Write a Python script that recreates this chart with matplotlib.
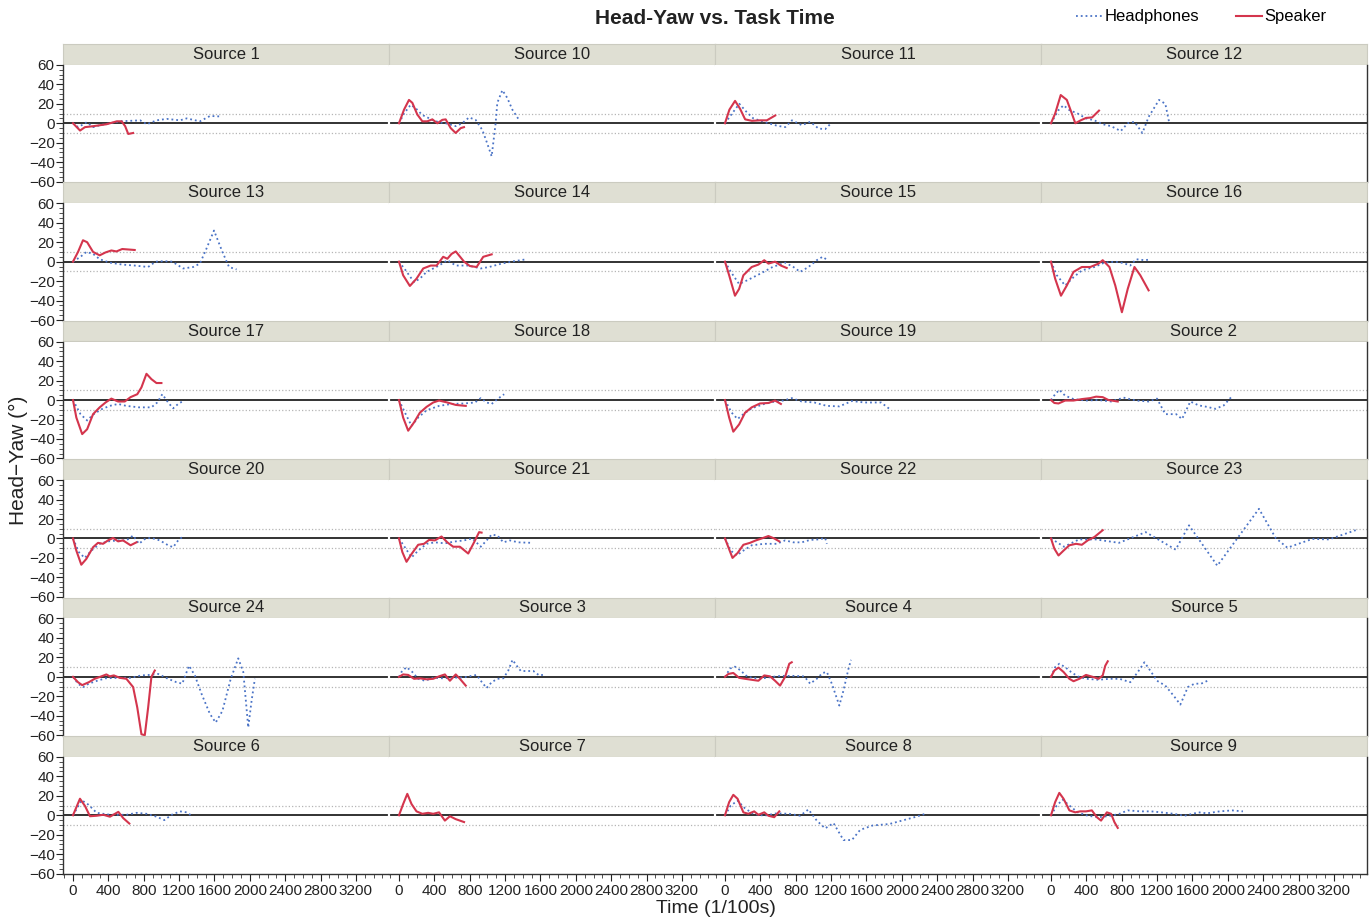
import matplotlib
matplotlib.use("Agg")
import matplotlib.pyplot as plt
from matplotlib.lines import Line2D
from matplotlib.ticker import MultipleLocator

plt.rcParams['font.family'] = ['Liberation Sans', 'DejaVu Sans']

# panel order as it appears in the facet grid (sorted as strings)
panel_order = [1, 10, 11, 12, 13, 14, 15, 16, 17, 18, 19, 2,
               20, 21, 22, 23, 24, 3, 4, 5, 6, 7, 8, 9]

# ---- data: time (1/100 s) and head-yaw (deg) ----
hp1_t = [0, 60, 155, 230, 305, 420, 530, 760, 835, 945, 1060, 1210, 1285, 1435, 1550, 1665]
hp1_y = [0, -4, 1, -4, -2, 0, 2, 3, -1, 3, 4.5, 3, 5, 2, 7.5, 7]
sp1_t = [0, 80, 135, 230, 380, 495, 550, 590, 625, 680]
sp1_y = [0, -7.5, -4, -3, -1, 2, 2, -3, -11, -10]

hp10_t = [0, 57, 132, 188, 264, 377, 452, 528, 641, 716, 792, 867, 943, 999, 1048, 1093, 1112, 1169, 1225, 1282, 1357]
hp10_y = [0, 10, 19, 15.5, 8.5, 3.5, 1, 0, -3, 0, 6, 3.5, -7, -21, -34, 0, 21, 34, 26, 14, 3.5]
sp10_t = [0, 57, 113, 151, 207, 264, 320, 377, 434, 490, 528, 585, 641, 698, 735]
sp10_y = [0, 14, 24, 21, 9, 2, 2, 4, 0, 3.5, 4, -5, -10, -5, -4]

hp11_t = [0, 80, 162, 240, 320, 492, 587, 681, 757, 870, 965, 1059, 1134, 1200]
hp11_y = [0, 10, 20, 12, 5, 0, -2.5, -4, 3, -2, 1.5, -5.5, -6, 0]
sp11_t = [0, 50, 114, 170, 228, 304, 398, 473, 568]
sp11_y = [0, 14, 23, 15, 4, 2.5, 3, 3, 8]

hp12_t = [0, 85, 142, 208, 302, 396, 491, 585, 680, 789, 868, 944, 1034, 1104, 1222, 1293, 1335]
hp12_y = [0, 13.5, 18.5, 13.5, 10, 5, 3, -1, -3, -8, 0, 1.5, -10, 6.5, 24, 20, 1.5]
sp12_t = [0, 47, 110, 179, 236, 275, 336, 397, 465, 543]
sp12_y = [0, 10, 29, 24, 10, 0, 3, 5.5, 6, 13]

hp13_t = [0, 85, 151, 227, 302, 415, 557, 698, 849, 934, 1029, 1123, 1246, 1359, 1435, 1510, 1595, 1690, 1765, 1850]
hp13_y = [0, 5, 10, 8, 2.5, -1, -3, -4, -5.5, 0, 0.5, 0, -7, -5.5, -2, 13.5, 32, 10, -5.5, -8]
sp13_t = [0, 57, 113, 160, 227, 302, 368, 434, 491, 557, 698]
sp13_y = [0, 10, 22, 20, 10, 6.5, 9.5, 11.5, 10.5, 13, 12]

hp14_t = [0, 76, 170, 236, 312, 453, 547, 642, 783, 925, 1019, 1161, 1303, 1444]
hp14_y = [0, -9, -21, -17.5, -10.5, -4, 1.5, -4, -4, -7, -5.5, -2, 0.5, 2.5]
sp14_t = [0, 47, 123, 198, 274, 359, 425, 500, 547, 595, 642, 736, 802, 878, 953, 1048]
sp14_y = [0, -14, -25, -17.5, -7, -4, -4, 5, 3, 8, 10.5, 0, -4.5, -5.5, 5, 7.5]

hp15_t = [0, 66, 160, 255, 396, 538, 680, 774, 850, 944, 1038, 1104, 1152]
hp15_y = [0, -10.5, -23, -19, -12.5, -5.5, -1, -5.5, -10.5, -5.5, 1.5, 5, 2]
sp15_t = [0, 47, 113, 160, 208, 302, 378, 444, 491, 566, 632, 698]
sp15_y = [0, -14, -35, -28, -14, -5.5, -3, 1.5, -2, 0, -4, -6.5]

hp16_t = [0, 66, 160, 255, 349, 491, 604, 727, 821, 896, 963, 1057, 1104]
hp16_y = [0, -14, -24.5, -16, -9, -5.5, -1, 0, -1.5, -4, 2.5, 1.5, 2]
sp16_t = [0, 47, 113, 179, 255, 349, 444, 538, 585, 661, 727, 802, 868, 944, 1010, 1104]
sp16_y = [0, -17.5, -35, -24.5, -10.5, -5.5, -5.5, -2, 1.5, -5.5, -24.5, -52, -28, -5.5, -14, -29.5]

hp17_t = [0, 85, 160, 227, 321, 415, 510, 604, 746, 887, 953, 1010, 1076, 1133, 1189, 1236]
hp17_y = [0, -14.5, -21, -15, -9.5, -6, -4, -6, -7.5, -7.5, -2.5, 6, -2.5, -8.5, -4, -1.5]
sp17_t = [0, 38, 104, 160, 227, 302, 368, 434, 510, 585, 651, 727, 774, 831, 887, 944, 1000]
sp17_y = [0, -18, -35, -30, -14.5, -7.5, -2.5, 1.5, -1.5, -1.5, 3, 6, 13, 27, 21.5, 17.5, 17.5]

hp18_t = [0, 76, 142, 217, 312, 453, 595, 736, 859, 925, 991, 1048, 1114, 1189]
hp18_y = [0, -14.5, -26.5, -18, -10.5, -6, -4, -3.5, -2.5, 2, -2.5, -4, 1, 6]
sp18_t = [0, 47, 104, 170, 236, 312, 387, 453, 547, 642, 755]
sp18_y = [0, -18, -31.5, -23, -13, -7, -2.5, -0.5, -2.5, -5, -6]

hp19_t = [0, 76, 142, 208, 302, 444, 566, 661, 755, 868, 1010, 1152, 1293, 1435, 1576, 1765, 1859]
hp19_y = [0, -13, -19.5, -14.5, -8.5, -4, -1.5, -0.5, 2, -1.5, -2.5, -6, -6.5, -1, -2.5, -2.5, -9]
sp19_t = [0, 47, 94, 160, 227, 302, 396, 491, 566, 632]
sp19_y = [0, -18, -32.5, -25, -13, -7.5, -3.5, -3, -0.5, -4]

hp2_t = [0, 47, 94, 160, 255, 396, 538, 680, 821, 963, 1104, 1199, 1293, 1416, 1482, 1576, 1671, 1765, 1860, 1954, 2048]
hp2_y = [0, 6, 10.5, 4.5, 1, -0.5, 0, -1.5, 2.5, -0.5, -1.5, 1.5, -14.5, -14.5, -19.5, -1.5, -5.5, -7, -9, -5.5, 4]
sp2_t = [0, 38, 85, 160, 255, 349, 444, 510, 585, 651, 755]
sp2_y = [0, -3, -3.5, -0.5, -0.5, 1, 2, 3.5, 3, 0, -1.5]

hp20_t = [0, 66, 132, 208, 302, 396, 510, 604, 680, 746, 821, 887, 982, 1076, 1133, 1189, 1236]
hp20_y = [0, -14, -20, -12.5, -5.5, -3, -2, -2, 3, -5.5, 0, 0.5, -2, -7, -9, -2, 1.5]
sp20_t = [0, 38, 94, 151, 227, 283, 340, 396, 453, 510, 566, 651, 717]
sp20_y = [0, -12.5, -27, -21, -9, -4.5, -5.5, -2, 0.5, -3, -2, -7, -4]

hp21_t = [0, 66, 142, 217, 312, 406, 519, 642, 736, 830, 925, 991, 1048, 1114, 1180, 1255, 1350, 1501]
hp21_y = [0, -9, -19.5, -12.5, -5.5, -4, -5, -3, -2, 0, -8.5, -2, 4, 3, -4, -2, -4, -4.5]
sp21_t = [0, 38, 85, 142, 217, 283, 340, 406, 481, 547, 613, 689, 783, 849, 906, 934]
sp21_y = [0, -14, -24, -16, -6.5, -5.5, -1.5, -2, 2, -4, -8.5, -8.5, -15.5, -4, 6.5, 6]

hp22_t = [0, 66, 132, 208, 302, 444, 585, 680, 774, 868, 963, 1057, 1133, 1152]
hp22_y = [0, -12.5, -17.5, -12.5, -7, -5.5, -5.5, -2, -4, -4, -1.5, -1, 0.5, -5.5]
sp22_t = [0, 38, 85, 142, 208, 283, 349, 415, 491, 557, 614]
sp22_y = [0, -9, -20, -15, -6.5, -4.5, -2, 0, 2.5, 0, -3]

hp23_t = [0, 147, 317, 505, 769, 1071, 1410, 1561, 1881, 2352, 2541, 2673, 2956, 3144, 3446]
hp23_y = [0, -8.5, -1, -1, -4.5, 6.5, -11.5, 13.5, -28, 30.5, 0.5, -9.5, -0.5, -1, 8.5]
sp23_t = [0, 38, 85, 142, 208, 283, 349, 415, 491, 538, 585]
sp23_y = [0, -10.5, -17.5, -12.5, -7, -5.5, -6.5, -2, 1.5, 5, 8.5]

hp24_t = [0, 57, 113, 179, 274, 368, 510, 651, 774, 868, 963, 1076, 1170, 1236, 1312, 1378, 1454,
          1548, 1614, 1690, 1784, 1869, 1926, 1982, 2020, 2057]
hp24_y = [0, -7, -10.5, -7, -4, -1.5, -1, -1, 1.5, 2, 3, -2, -5.5, -7, 11.5, 1.5, -17.5,
          -38, -47, -35, -2, 19, 5, -52, -24.5, -2]
sp24_t = [0, 57, 104, 179, 245, 321, 378, 415, 462, 529, 604, 680, 727, 774, 812, 850, 887, 925]
sp24_y = [0, -5.5, -8.5, -5.5, -2, 0.5, 2.5, 0.5, 1.5, -1, -2, -10.5, -31.5, -59, -60, -31.5, 0, 6.5]

hp3_t = [0, 28, 85, 151, 217, 293, 387, 500, 595, 736, 878, 925, 991, 1048, 1114, 1180, 1236,
         1284, 1331, 1378, 1520, 1586, 1661]
hp3_y = [0, 5, 10, 5, -2, -4, -1, -1.5, -1, -0.5, 2, -4, -11.5, -5.5, -2, -1.5, 6.5,
         17.5, 11.5, 6, 6, 1.5, 2.5]
sp3_t = [0, 47, 104, 170, 236, 312, 387, 453, 519, 576, 642, 689, 755]
sp3_y = [0, 2.5, 2, -2, -1.5, -2.5, -2, 0.5, 2.5, -4, 2.5, -2, -9]

hp4_t = [0, 57, 113, 170, 255, 396, 538, 632, 774, 897, 963, 1038, 1104, 1152, 1208, 1293, 1340, 1397, 1425]
hp4_y = [0, 8.5, 10.5, 7, 0, -2, 0, 1, 1, 0.5, -7, -2, 4, 5, -7, -29.5, -14, 8.5, 17.5]
sp4_t = [0, 38, 94, 160, 227, 302, 378, 444, 510, 566, 623, 680, 727, 755]
sp4_y = [0, 3, 4, -1, -2, -3, -4, 1.5, 0.5, -4, -9, 0, 13.5, 15]

hp5_t = [0, 47, 94, 160, 227, 302, 396, 538, 661, 774, 897, 982, 1057, 1133, 1199, 1293, 1388,
         1463, 1548, 1624, 1699, 1794]
hp5_y = [0, 10, 13.5, 10, 5, 0.5, -2, -3, -2, -2, -5.5, 5, 15, 5, -4, -9, -19.5,
         -28.5, -10.5, -7, -7, -3]
sp5_t = [0, 38, 85, 142, 208, 255, 321, 396, 472, 538, 585, 614, 642]
sp5_y = [0, 6.5, 9.5, 5, -2, -4.5, -2, 2, 0, -2, 1.5, 11.5, 16]

hp6_t = [0, 98, 173, 268, 418, 607, 720, 833, 946, 1033, 1116, 1210, 1286, 1342]
hp6_y = [0, 15.5, 11, 2.5, 0.5, 0.5, 2.5, 1.5, -1.5, -5, 0.5, 4, 3, -0.5]
sp6_t = [0, 79, 136, 192, 268, 343, 418, 513, 569, 637]
sp6_y = [0, 17, 9.5, -1, -0.5, 0.5, -1.5, 3.5, -3, -8.5]

hp7_t = []
hp7_y = []
sp7_t = [0, 47, 94, 142, 198, 264, 330, 387, 453, 519, 576, 642, 736]
sp7_y = [0, 11.5, 22, 11.5, 4, 1.5, 2.5, 1.5, 3, -5.5, -1, -4, -7]

hp8_t = [0, 66, 142, 227, 321, 444, 585, 727, 850, 944, 1038, 1133, 1227, 1340, 1435, 1529, 1671,
         1860, 2001, 2143, 2266]
hp8_y = [0, 10, 15, 7, 1.5, -0.5, 2, 1.5, -0.5, 6, -5.5, -13.5, -8, -25.5, -25.5, -15, -10.5,
         -9, -5.5, -2, 1.5]
sp8_t = [0, 47, 94, 142, 208, 264, 330, 378, 444, 491, 557, 614]
sp8_y = [0, 13.5, 21, 17, 3, 1.5, 4, 0.5, 3, -0.5, -2, 4]

hp9_t = [0, 66, 132, 208, 302, 415, 538, 680, 774, 868, 1010, 1133, 1246, 1388, 1510, 1671, 1765,
         1907, 2048, 2171]
hp9_y = [0, 10, 16, 10, 3, -0.5, -2, -0.5, 1.5, 5, 4, 4, 3, 1.5, -0.5, 3, 2, 4, 5, 4]
sp9_t = [0, 47, 94, 142, 208, 274, 330, 396, 462, 519, 566, 632, 680, 717, 755]
sp9_y = [0, 13.5, 23, 17, 5, 3, 4, 4, 5, -2, -5.5, 3, 1.5, -7, -13]

data = {n: (globals()['hp%d_t' % n], globals()['hp%d_y' % n],
            globals()['sp%d_t' % n], globals()['sp%d_y' % n]) for n in panel_order}

HP_COLOR = '#4a73c6'
SP_COLOR = '#d4354d'
STRIP_COLOR = '#dfdfd3'

W, H = 1369, 921
fig = plt.figure(figsize=(W / 100, H / 100), dpi=100)

left0, col_w = 63, 326
top0, row_h, strip_h = 44, 138.4, 20.7

for k, src in enumerate(panel_order):
    r, c = divmod(k, 4)
    x_left = left0 + c * col_w
    s_top = top0 + r * row_h
    s_bot = s_top + strip_h
    p_bot = s_top + row_h

    # strip header
    sax = fig.add_axes([x_left / W, 1 - s_bot / H, col_w / W, strip_h / H])
    sax.set_facecolor(STRIP_COLOR)
    sax.set_xticks([])
    sax.set_yticks([])
    for sp in sax.spines.values():
        sp.set_color('#cbcbc0')
        sp.set_linewidth(0.8)
    sax.text(0.5, 0.5, 'Source %d' % src, ha='center', va='center',
             fontsize=12, color='#222222', transform=sax.transAxes)

    ax = fig.add_axes([x_left / W, 1 - p_bot / H, col_w / W, (p_bot - s_bot) / H])
    ax.set_xlim(-113, 3574)
    ax.set_ylim(-60.8, 60.2)

    ax.axhline(10, color='#b5b5b5', ls=':', lw=0.9, zorder=1)
    ax.axhline(-10, color='#b5b5b5', ls=':', lw=0.9, zorder=1)
    ax.axhline(0, xmin=0.0 if c == 0 else 0.006, xmax=1.0 if c == 3 else 0.994,
               color='#222222', lw=1.3, zorder=2)

    hp_t, hp_y, sp_t, sp_y = data[src]
    if hp_t:
        ax.plot(hp_t, hp_y, color=HP_COLOR, ls=':', lw=1.3, zorder=3)
    ax.plot(sp_t, sp_y, color=SP_COLOR, lw=1.5, zorder=4)

    for name in ['top', 'left', 'right', 'bottom']:
        ax.spines[name].set_visible(False)
    ax.spines['left'].set_visible(c == 0)
    ax.spines['right'].set_visible(c == 3)
    ax.spines['bottom'].set_visible(r == 5)
    for name in ['left', 'right', 'bottom']:
        ax.spines[name].set_color('#333333')
        ax.spines[name].set_linewidth(1.0)

    if c == 0:
        ax.set_yticks(range(-60, 61, 20))
        ax.yaxis.set_minor_locator(MultipleLocator(5))
        ax.tick_params(axis='y', which='major', direction='out', length=5,
                       labelsize=11, colors='#222222', pad=1)
        ax.tick_params(axis='y', which='minor', direction='out', length=3, color='#333333')
    else:
        ax.set_yticks([])
        ax.tick_params(axis='y', which='both', left=False, labelleft=False)

    if r == 5:
        ax.set_xticks(range(0, 3201, 400))
        ax.xaxis.set_minor_locator(MultipleLocator(100))
        ax.tick_params(axis='x', which='major', direction='out', length=5,
                       labelsize=11, colors='#222222', pad=2)
        ax.tick_params(axis='x', which='minor', direction='out', length=3, color='#333333')
    else:
        ax.set_xticks([])
        ax.tick_params(axis='x', which='both', bottom=False, labelbottom=False)

fig.text(715 / W, 1 - 18 / H, 'Head-Yaw vs. Task Time', ha='center', va='center',
         fontsize=15, fontweight='bold', color='#222222')
fig.text(18 / W, 1 - 460 / H, 'Head\u2212Yaw (\u00b0)', ha='center', va='center',
         rotation=90, fontsize=15, color='#222222')
fig.text(716 / W, 1 - 908 / H, 'Time (1/100s)', ha='center', va='center',
         fontsize=14, color='#222222')

handles = [Line2D([], [], color=HP_COLOR, ls=':', lw=1.3),
           Line2D([], [], color=SP_COLOR, lw=1.5)]
fig.legend(handles, ['Headphones', 'Speaker'], loc='center right',
           bbox_to_anchor=(1326 / W, 1 - 17 / H), ncol=2, frameon=False,
           fontsize=12, handlelength=1.6, handletextpad=0.1, columnspacing=2.2,
           borderaxespad=0, borderpad=0)

fig.savefig('out.png', dpi=100)
